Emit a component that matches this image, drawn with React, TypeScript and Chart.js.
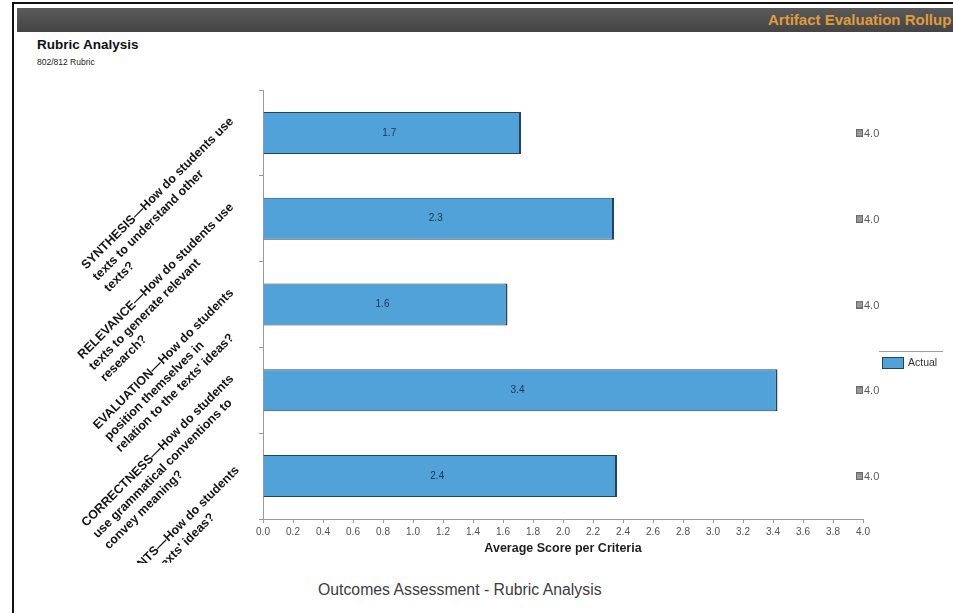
import React, { useEffect, useRef } from "react";
import { Chart, registerables } from "chart.js";

Chart.register(...registerables);

// ---------- data ----------
const categoryLines: string[][] = [
  ["SYNTHESIS—How do students use", "texts to understand other", "texts?"],
  ["RELEVANCE—How do students use", "texts to generate relevant", "research?"],
  ["EVALUATION—How do students", "position themselves in", "relation to the texts' ideas?"],
  ["CORRECTNESS—How do students", "use grammatical conventions to", "convey meaning?"],
  ["ARGUMENTS—How do students", "respond to texts' ideas?"],
];
const categories: string[] = categoryLines.map((l) => l.join(" "));
const actualScores: number[] = [1.72, 2.34, 1.63, 3.43, 2.36];
const maxScores: number[] = [4.0, 4.0, 4.0, 4.0, 4.0];
const xMin = 0;
const xMax = 4;
const xStep = 0.2;
const seriesName = "Actual";
const xTitle = "Average Score per Criteria";

const FONT = "'Liberation Sans', Arial, Helvetica, sans-serif";
const BAR_FILL = "#52a2da";
const BAR_BORDER = "#24435f";

// rotated, wrapped category labels drawn against the y scale
const yLabelPlugin = {
  id: "rotatedYLabels",
  afterDraw(chart: any) {
    const { ctx, chartArea, scales } = chart;
    const ys = scales.y;
    const L = 16;
    ctx.save();
    ctx.font = `bold 12.5px ${FONT}`;
    ctx.fillStyle = "#141414";
    ctx.textBaseline = "middle";
    ctx.textAlign = "left";
    categoryLines.forEach((lines, i) => {
      const y = ys.getPixelForValue(i);
      const ax = chartArea.left - 20;
      const ay = y - 2;
      const W = Math.max(...lines.map((l) => ctx.measureText(l).width));
      ctx.save();
      ctx.translate(ax, ay);
      ctx.rotate(-Math.PI / 4);
      lines.forEach((line, k) => {
        ctx.fillText(line, -W, (k - (lines.length - 1) / 2) * L);
      });
      ctx.restore();
    });
    ctx.restore();
  },
};

// value labels inside bars and next to the max markers
const valueLabelPlugin = {
  id: "valueLabels",
  afterDatasetsDraw(chart: any) {
    const ctx = chart.ctx;
    ctx.save();
    ctx.font = `10px ${FONT}`;
    ctx.fillStyle = "#1b3350";
    ctx.textAlign = "center";
    ctx.textBaseline = "middle";
    chart.getDatasetMeta(0).data.forEach((el: any, i: number) => {
      ctx.fillText(actualScores[i].toFixed(1), (el.x + el.base) / 2 - 3, el.y);
    });
    ctx.font = `11px ${FONT}`;
    ctx.fillStyle = "#5a5a5a";
    ctx.textAlign = "left";
    chart.getDatasetMeta(1).data.forEach((el: any, i: number) => {
      ctx.fillText(maxScores[i].toFixed(1), el.x + 1, el.y + 1);
    });
    ctx.restore();
  },
};

function makeMarker(): HTMLCanvasElement {
  const c = document.createElement("canvas");
  c.width = 14;
  c.height = 8;
  const g = c.getContext("2d")!;
  g.fillStyle = "#8e8e8e";
  g.fillRect(0, 0, 7, 8);
  g.strokeStyle = "#6a6a6a";
  g.lineWidth = 1;
  g.strokeRect(0.5, 0.5, 6, 7);
  g.fillStyle = "#a8a8a8";
  g.fillRect(1, 3, 5, 1);
  g.fillRect(1, 5, 5, 1);
  return c;
}

function RubricChart() {
  const ref = useRef<HTMLCanvasElement | null>(null);
  useEffect(() => {
    if (!ref.current) return;
    const marker = makeMarker();
    const chart = new Chart(ref.current, {
      type: "bar",
      data: {
        labels: categories,
        datasets: [
          {
            type: "bar",
            label: seriesName,
            data: actualScores,
            backgroundColor: BAR_FILL,
            borderColor: BAR_BORDER,
            borderWidth: { top: 1, right: 2, bottom: 1, left: 0 },
            borderSkipped: false,
            categoryPercentage: 1,
            barPercentage: 0.49,
          } as any,
          {
            type: "line",
            label: "Max",
            data: maxScores,
            showLine: false,
            pointStyle: marker as any,
            pointRadius: 5,
            pointHoverRadius: 5,
            borderColor: "#888",
            backgroundColor: "#888",
          } as any,
        ],
      },
      options: {
        indexAxis: "y",
        animation: false,
        responsive: true,
        maintainAspectRatio: false,
        layout: { padding: { left: 245, right: 90, top: 20, bottom: 7 } },
        plugins: {
          legend: { display: false },
          tooltip: { enabled: false },
          title: { display: false },
        },
        scales: {
          x: {
            type: "linear",
            min: xMin,
            max: xMax,
            border: { color: "#9a9a9a", width: 1 },
            grid: {
              drawOnChartArea: false,
              drawTicks: true,
              tickLength: 4,
              color: "#9a9a9a",
            },
            ticks: {
              stepSize: xStep,
              autoSkip: false,
              maxRotation: 0,
              padding: 3,
              color: "#505050",
              font: { size: 10, family: FONT },
              callback: (v: any) => Number(v).toFixed(1),
            },
            title: {
              display: true,
              text: xTitle,
              color: "#1e1e1e",
              font: { size: 12.5, weight: "bold", family: FONT },
              padding: { top: 0, bottom: 0 },
            },
          },
          y: {
            type: "category",
            border: { color: "#9a9a9a", width: 1 },
            grid: {
              drawOnChartArea: false,
              drawTicks: true,
              tickLength: 4,
              color: "#9a9a9a",
            },
            ticks: { display: false },
          },
        },
      } as any,
      plugins: [yLabelPlugin, valueLabelPlugin],
    });
    return () => chart.destroy();
  }, []);
  return <canvas ref={ref} />;
}

export default function App() {
  return (
    <div
      style={{
        position: "fixed",
        left: 0,
        top: 0,
        width: 953,
        height: 613,
        background: "#ffffff",
        overflow: "hidden",
        fontFamily: FONT,
      }}
    >
      {/* frame */}
      <div style={{ position: "absolute", left: 12, top: 2, width: 941, height: 2, background: "#111" }} />
      <div style={{ position: "absolute", left: 12, top: 2, width: 2, height: 611, background: "#111" }} />
      {/* header bar */}
      <div
        style={{
          position: "absolute",
          left: 17,
          top: 8,
          width: 936,
          height: 24,
          background: "linear-gradient(#5a5a5a, #444444)",
        }}
      />
      <div
        style={{
          position: "absolute",
          left: 768,
          top: 8,
          height: 24,
          lineHeight: "24px",
          fontSize: 15,
          fontWeight: "bold",
          color: "#e09c3c",
          whiteSpace: "nowrap",
        }}
      >
        Artifact Evaluation Rollup
      </div>
      <div
        style={{
          position: "absolute",
          left: 37,
          top: 37,
          lineHeight: "16px",
          fontSize: 13.5,
          fontWeight: "bold",
          color: "#111",
          whiteSpace: "nowrap",
        }}
      >
        Rubric Analysis
      </div>
      <div
        style={{
          position: "absolute",
          left: 37,
          top: 56,
          lineHeight: "12px",
          fontSize: 8.5,
          color: "#222",
          whiteSpace: "nowrap",
        }}
      >
        802/812 Rubric
      </div>
      {/* chart */}
      <div style={{ position: "absolute", left: 14, top: 70, width: 939, height: 493 }}>
        <RubricChart />
      </div>
      {/* legend */}
      <div
        style={{
          position: "absolute",
          left: 879,
          top: 351,
          width: 64,
          height: 20,
          borderTop: "1px solid #a0a0a0",
        }}
      >
        <div
          style={{
            position: "absolute",
            left: 3,
            top: 5,
            width: 20,
            height: 10,
            background: BAR_FILL,
            border: `1px solid ${BAR_BORDER}`,
          }}
        />
        <div
          style={{
            position: "absolute",
            left: 29,
            top: 4,
            lineHeight: "13px",
            fontSize: 10.5,
            color: "#333",
            whiteSpace: "nowrap",
          }}
        >
          {seriesName}
        </div>
      </div>
      {/* caption */}
      <div
        style={{
          position: "absolute",
          left: 318,
          top: 581,
          lineHeight: "18px",
          fontSize: 15.8,
          color: "#3c3c3c",
          whiteSpace: "nowrap",
        }}
      >
        Outcomes Assessment - Rubric Analysis
      </div>
    </div>
  );
}
